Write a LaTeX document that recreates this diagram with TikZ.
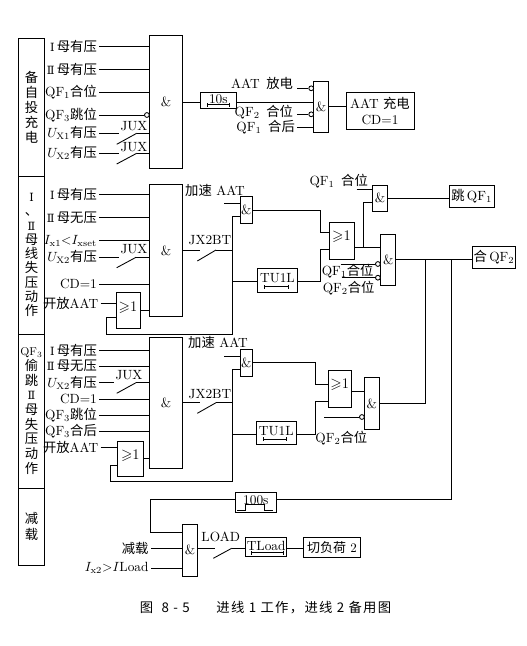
\documentclass[tikz,border=0pt]{standalone}
\usepackage{amssymb}
\usepackage{fontspec}
\usetikzlibrary{arrows.meta}
\newfontfamily\cjk{Noto Sans CJK SC}
\newfontfamily\cjkwide[LetterSpace=10]{Noto Sans CJK SC}
\newfontfamily\romfont{DejaVu Serif}
\newcommand{\zh}[1]{{\cjk #1}}
\newcommand{\ro}[1]{{\romfont\fontsize{8.5}{9}\selectfont #1}}
\newcommand{\orgate}{{\fontsize{11}{12}\selectfont$\geqslant$1}}
\begin{document}
\begin{tikzpicture}[x=0.75pt,y=-0.75pt,line width=0.65pt]
\tikzstyle{gatebox}=[draw,rectangle,inner sep=0pt,font=\fontsize{10}{12}\selectfont]
\tikzstyle{sigtext}=[inner sep=1.5pt,font=\fontsize{10}{12}\selectfont]
\tikzstyle{inlabel}=[sigtext,anchor=east]
\tikzstyle{bubble}=[draw,circle,fill=white,inner sep=0pt,minimum size=3.6pt]
\tikzstyle{timerbar}=[{Bar[width=3pt]}-{Bar[width=3pt]},line width=0.5pt]
\useasboundingbox (0,0) rectangle (527,646);

% side column
\node[gatebox,minimum width=19.5pt,minimum height=103.5pt,align=center,font=\fontsize{10}{11.25}\selectfont] (colA) at (31.5,107) {\zh{备}\\\zh{自}\\\zh{投}\\\zh{充}\\\zh{电}};
\node[gatebox,minimum width=19.5pt,minimum height=118.5pt,align=center,font=\fontsize{10}{10.7}\selectfont] (colB) at (31.5,255) {\ro{Ⅰ}\\\zh{、}\\\ro{Ⅱ}\\\zh{母}\\\zh{线}\\\zh{失}\\\zh{压}\\\zh{动}\\\zh{作}};
\node[gatebox,minimum width=19.5pt,minimum height=115.5pt,align=center,font=\fontsize{10}{11}\selectfont] (colC) at (31.5,411) {{\fontsize{8.5}{11}\selectfont QF$_3$}\\\zh{偷}\\\zh{跳}\\\ro{Ⅱ}\\\zh{母}\\\zh{失}\\\zh{压}\\\zh{动}\\\zh{作}};
\node[gatebox,minimum width=19.5pt,minimum height=58.3pt,align=center,font=\fontsize{10}{12}\selectfont] (colD) at (31.5,526.9) {\zh{减}\\\zh{载}};

% charging block
\node[gatebox,minimum width=25pt,minimum height=99.5pt] (andA) at (166,102) {\&};
\node[inlabel] (inA1) at (99.3,46) {\ro{Ⅰ}\,\zh{母有压}};
\node[inlabel] (inA2) at (99.3,69) {\ro{Ⅱ}\,\zh{母有压}};
\node[inlabel] (inA3) at (99.3,92) {QF$_1$\zh{合位}};
\node[inlabel] (inA4) at (99.3,115) {QF$_3$\zh{跳位}};
\node[inlabel] (inA5) at (99.3,133.3) {$U_{\mathrm{X1}}$\zh{有压}};
\node[inlabel] (inA6) at (99.3,153.3) {$U_{\mathrm{X2}}$\zh{有压}};
\node[bubble] (buA4) at (146.9,115) {};
\draw (inA1.east) -- (inA1.east -| andA.west);
\draw (inA2.east) -- (inA2.east -| andA.west);
\draw (inA3.east) -- (inA3.east -| andA.west);
\draw (inA4.east) -- (buA4.west);
\coordinate (juA1) at (119.3,133.3);
\coordinate (juA2) at (136.7,133.3);
\coordinate (juB1) at (119.3,153.3);
\coordinate (juB2) at (136.7,153.3);
\draw (inA5.east) -- (juA1);
\draw (116.7,144.3) -- (juA2);
\draw (juA2) -- (juA2 -| andA.west);
\draw (inA6.east) -- (juB1);
\draw (116.7,164) -- (juB2);
\draw (juB2) -- (juB2 -| andA.west);
\node[sigtext] (juxA) at (134,126.5) {JUX};
\node[sigtext] (juxB) at (134,147) {JUX};
\node[gatebox,minimum width=27.5pt,minimum height=12pt] (tdA) at (218.3,100.3) {\raisebox{1.5pt}{10s}};
\draw[timerbar] (206.7,104.5) -- (230,104.5);
\node[gatebox,minimum width=11.5pt,minimum height=38.3pt] (andB) at (321,106.5) {\&};
\coordinate (sigA) at (200,102);
\draw (sigA -| andA.east) -- (sigA);
\draw (sigA -| tdA.east) -- (sigA -| andB.west);
\node[inlabel] (inB1) at (295.5,83) {AAT\, \zh{放电}};
\node[inlabel] (inB2) at (295.5,112) {QF$_2$\, \zh{合位}};
\node[inlabel] (inB3) at (297.3,127.3) {QF$_1$\, \zh{合后}};
\node[bubble] (buB1) at (311.2,88.3) {};
\node[bubble] (buB2) at (311.2,114.3) {};
\coordinate (stB1) at (297.3,88.3);
\coordinate (stB2) at (297.3,114.3);
\draw (stB1) -- (buB1.west);
\draw (stB2) -- (buB2.west);
\draw (inB3.east) -- (inB3.east -| andB.west);
\node[gatebox,minimum width=51pt,minimum height=27.2pt,align=center] (aatbox) at (380,110.9) {AAT \zh{充电}\\CD$=$1};
\draw (andB.east) -- (andB.east -| aatbox.west);

% voltage loss block
\node[gatebox,minimum width=25pt,minimum height=99.3pt] (andC) at (166,250.5) {\&};
\node[inlabel] (inC1) at (99.3,194.3) {\ro{Ⅰ}\,\zh{母有压}};
\node[inlabel] (inC2) at (99.3,217.7) {\ro{Ⅱ}\,\zh{母无压}};
\node[inlabel] (inC3) at (99.3,240.7) {$I_{\mathrm{x1}}{<}I_{\mathrm{xset}}$};
\node[inlabel] (inC4) at (99.3,257.3) {$U_{\mathrm{X2}}$\zh{有压}};
\node[inlabel] (inC5) at (99.3,284) {CD$=$1};
\node[inlabel] (inC6) at (100.7,303) {\zh{开放}AAT};
\draw (inC1.east) -- (inC1.east -| andC.west);
\draw (inC2.east) -- (inC2.east -| andC.west);
\draw (inC3.east) -- (inC3.east -| andC.west);
\draw (inC5.east) -- (inC5.east -| andC.west);
\coordinate (juC1) at (119.3,257.3);
\coordinate (juC2) at (136,257.3);
\draw (inC4.east) -- (juC1);
\draw (116.7,267.7) -- (juC2);
\draw (juC2) -- (juC2 -| andC.west);
\node[sigtext] (juxC) at (134,249.5) {JUX};
\node[gatebox,minimum width=18pt,minimum height=26.7pt] (orA) at (128,310.5) {\raisebox{6.5pt}{\orgate}};
\draw (inC6.east) -- (inC6.east -| orA.west);
\draw (orA.east) -- (orA.east -| andC.west);
\node[gatebox,minimum width=9.5pt,minimum height=20pt] (jsA) at (246.3,210) {\&};
\coordinate (orAin) at (116,317.7);
\coordinate (busA) at (232.7,216.7);
\draw (orAin) -| (106,334) -| (busA) -- (busA -| jsA.west);
\coordinate (jxA1) at (200,250);
\coordinate (jxA2) at (216,250);
\draw (jxA1 -| andC.east) -- (jxA1);
\draw (197.3,261) -- (jxA2);
\draw (jxA2) -- (jxA2 -| busA);
\node[sigtext] (jxAt) at (210,240.5) {JX2BT};
\node[sigtext] (jsAt) at (215,190) {\zh{加速} AAT};
\coordinate (jsAf) at (224.3,203.3);
\draw (jsAf) -- (jsAf -| jsA.west);
\node[gatebox,minimum width=30.3pt,minimum height=18pt] (tuA) at (277.5,280.3) {\raisebox{3pt}{TU1L}};
\draw[timerbar] (264.3,286.7) -- (288.3,286.7);
\coordinate (tuAin) at (257.3,281.7);
\draw (tuAin -| busA) -- (tuAin);

\node[gatebox,minimum width=18.75pt,minimum height=27.5pt] (orB) at (341.5,240.6) {\raisebox{7.5pt}{\orgate}};
\coordinate (orBin1) at (329,232.3);
\coordinate (orBin2) at (329,249.3);
\draw (jsA.east) -| (320,232.3) -- (orBin1);
\draw (tuAin -| tuA.east) -| (320,249.3) -- (orBin2);
\node[gatebox,minimum width=11.3pt,minimum height=38.5pt] (andD) at (388.2,259.7) {\&};
\node[gatebox,minimum width=11pt,minimum height=19.5pt] (jtA) at (380,198) {\&};
\node[gatebox,minimum width=33.5pt,minimum height=16.7pt] (tripbox) at (471.7,196.2) {\zh{跳}\,QF$_1$};
\node[gatebox,minimum width=32.8pt,minimum height=16.5pt] (closebox) at (494,257.3) {\zh{合}\,QF$_2$};
\coordinate (orBout) at (354,247.3);
\coordinate (jtAin) at (372.7,202.7);
\coordinate (jtAf) at (356.7,189.3);
\draw (orBout) -- (orBout -| andD.west);
\draw (363.3,247.3) |- (jtAin);
\draw (jtAf) -- (jtAf -| jtA.west);
\draw (jtA.east) -- (jtA.east -| tripbox.west);
\draw (andD.east) -- (andD.east -| closebox.west);
\node[sigtext] (qfAt) at (338.7,181.3) {QF$_1$\, \zh{合位}};
\node[bubble] (buD1) at (377.9,264) {};
\node[bubble] (buD2) at (377.9,277.7) {};
\coordinate (stD1) at (340.7,264);
\coordinate (stD2) at (341.7,277.7);
\draw (stD1) -- (buD1.west);
\draw (stD2) -- (buD2.west);
\node[sigtext] (qfBt) at (347.7,271.5) {QF$_1$\zh{合位}};
\node[sigtext] (qfCt) at (348.7,287.8) {QF$_2$\zh{合位}};

% stolen trip block
\node[gatebox,minimum width=25pt,minimum height=98.3pt] (andE) at (166,402.8) {\&};
\node[inlabel] (inE1) at (99.3,350) {\ro{Ⅰ}\,\zh{母有压}};
\node[inlabel] (inE2) at (99.3,366) {\ro{Ⅱ}\,\zh{母无压}};
\node[inlabel] (inE3) at (99.3,382.7) {$U_{\mathrm{X2}}$\zh{有压}};
\node[inlabel] (inE4) at (99.3,399.3) {CD$=$1};
\node[inlabel] (inE5) at (99.3,415) {QF$_3$\zh{跳位}};
\node[inlabel] (inE6) at (99.3,431) {QF$_3$\zh{合后}};
\node[inlabel] (inE7) at (100.7,447.3) {\zh{开放}AAT};
\draw (inE1.east) -- (inE1.east -| andE.west);
\draw (inE2.east) -- (inE2.east -| andE.west);
\draw (inE4.east) -- (inE4.east -| andE.west);
\draw (inE5.east) -- (inE5.east -| andE.west);
\draw (inE6.east) -- (inE6.east -| andE.west);
\coordinate (juE1) at (114.3,382.7);
\coordinate (juE2) at (136,382.7);
\draw (inE3.east) -- (juE1);
\draw (116.7,393.3) -- (juE2);
\draw (juE2) -- (juE2 -| andE.west);
\node[sigtext] (juxE) at (129,375) {JUX};
\node[gatebox,minimum width=19.5pt,minimum height=26.8pt] (orC) at (130.3,458.8) {\raisebox{6pt}{\orgate}};
\draw (inE7.east) -- (inE7.east -| orC.west);
\draw (orC.east) -- (orC.east -| andE.west);
\node[gatebox,minimum width=9.5pt,minimum height=20pt] (jsB) at (246.3,362.7) {\&};
\coordinate (orCin) at (117.3,465);
\coordinate (busB) at (232.7,369);
\draw (orCin) -| (110,481) -| (busB) -- (busB -| jsB.west);
\coordinate (jxB1) at (200,402.7);
\coordinate (jxB2) at (216,402.7);
\draw (jxB1 -| andE.east) -- (jxB1);
\draw (197.3,413.3) -- (jxB2);
\draw (jxB2) -- (jxB2 -| busB);
\node[sigtext] (jxBt) at (210,394) {JX2BT};
\node[sigtext] (jsBt) at (218,342.3) {\zh{加速} AAT};
\coordinate (jsBf) at (224.3,356);
\draw (jsBf) -- (jsBf -| jsB.west);
\node[gatebox,minimum width=30.5pt,minimum height=17.5pt] (tuB) at (276.3,432.7) {\raisebox{3pt}{TU1L}};
\draw[timerbar] (263.3,439) -- (286.7,439);
\coordinate (tuBin) at (256,434.3);
\draw (tuBin -| busB) -- (tuBin);
\node[gatebox,minimum width=17pt,minimum height=27.8pt] (orD) at (339.7,388.8) {\raisebox{8pt}{\orgate}};
\coordinate (orDin1) at (328.3,384.3);
\coordinate (orDin2) at (328.3,401);
\draw (jsB.east) -| (315.7,384.3) -- (orDin1);
\draw (tuBin -| tuB.east) -| (315.7,401) -- (orDin2);
\node[gatebox,minimum width=11.5pt,minimum height=38.5pt] (andF) at (371.7,403.4) {\&};
\coordinate (orDout) at (351,391.3);
\draw (orDout) -- (orDout -| andF.west);
\node[bubble] (buF) at (361.9,417) {};
\coordinate (stF) at (324.3,417);
\draw (stF) -- (buF.west);
\node[sigtext] (qfFt) at (341.3,437.7) {QF$_2$\zh{合位}};
\coordinate (brA) at (425.7,259.7);
\coordinate (brB) at (451.7,259.7);
\draw (andF.east) -| (brA);

% load shedding
\node[gatebox,minimum width=30.2pt,minimum height=15.2pt] (tdB) at (255.8,502.2) {\raisebox{3pt}{100s}};
\draw (237,510.5) -- (245,510.5) -- (245,504.7) -- (264,504.7) -- (264,510.5) -- (273,510.5);
\coordinate (tdBin) at (276,499);
\node[gatebox,minimum width=11.5pt,minimum height=38.8pt] (andG) at (190,550.2) {\&};
\coordinate (andGin) at (182.3,532.3);
\draw (brB) |- (tdBin);
\draw (tdBin -| tdB.west) -| (150.7,532.3) -- (andGin);
\node[inlabel] (inG1) at (151,548.3) {\zh{减载}};
\node[inlabel] (inG2) at (151,568.3) {$I_{\mathrm{x2}}{>}I$Load};
\draw (inG1.east) -- (inG1.east -| andG.west);
\draw (inG2.east) -- (inG2.east -| andG.west);
\coordinate (loA1) at (215,548.3);
\coordinate (loA2) at (231.7,548.3);
\draw (loA1 -| andG.east) -- (loA1);
\draw (213.3,558.3) -- (loA2);
\node[sigtext] (loadt) at (220.7,537) {LOAD};
\node[gatebox,minimum width=30.8pt,minimum height=14.6pt] (tlBox) at (266.2,547) {\raisebox{1.5pt}{TLoad}};
\draw[timerbar] (250.7,552.7) -- (283.3,552.7);
\draw (loA2) -- (loA2 -| tlBox.west);
\node[gatebox,minimum width=43pt,minimum height=15pt,font=\fontsize{9.75}{12}\selectfont] (cutbox) at (332,547.3) {\zh{切负荷} 2};
\coordinate (cutin) at (303.3,548);
\draw (cutin -| tlBox.east) -- (cutin);

\node[font=\fontsize{10}{12}\selectfont] (caption) at (265.5,608) {{\cjkwide 图\ \ 8\ -\ 5\quad\quad 进线\ 1\ 工作，进线\ 2\ 备用图}};
\end{tikzpicture}
\end{document}
